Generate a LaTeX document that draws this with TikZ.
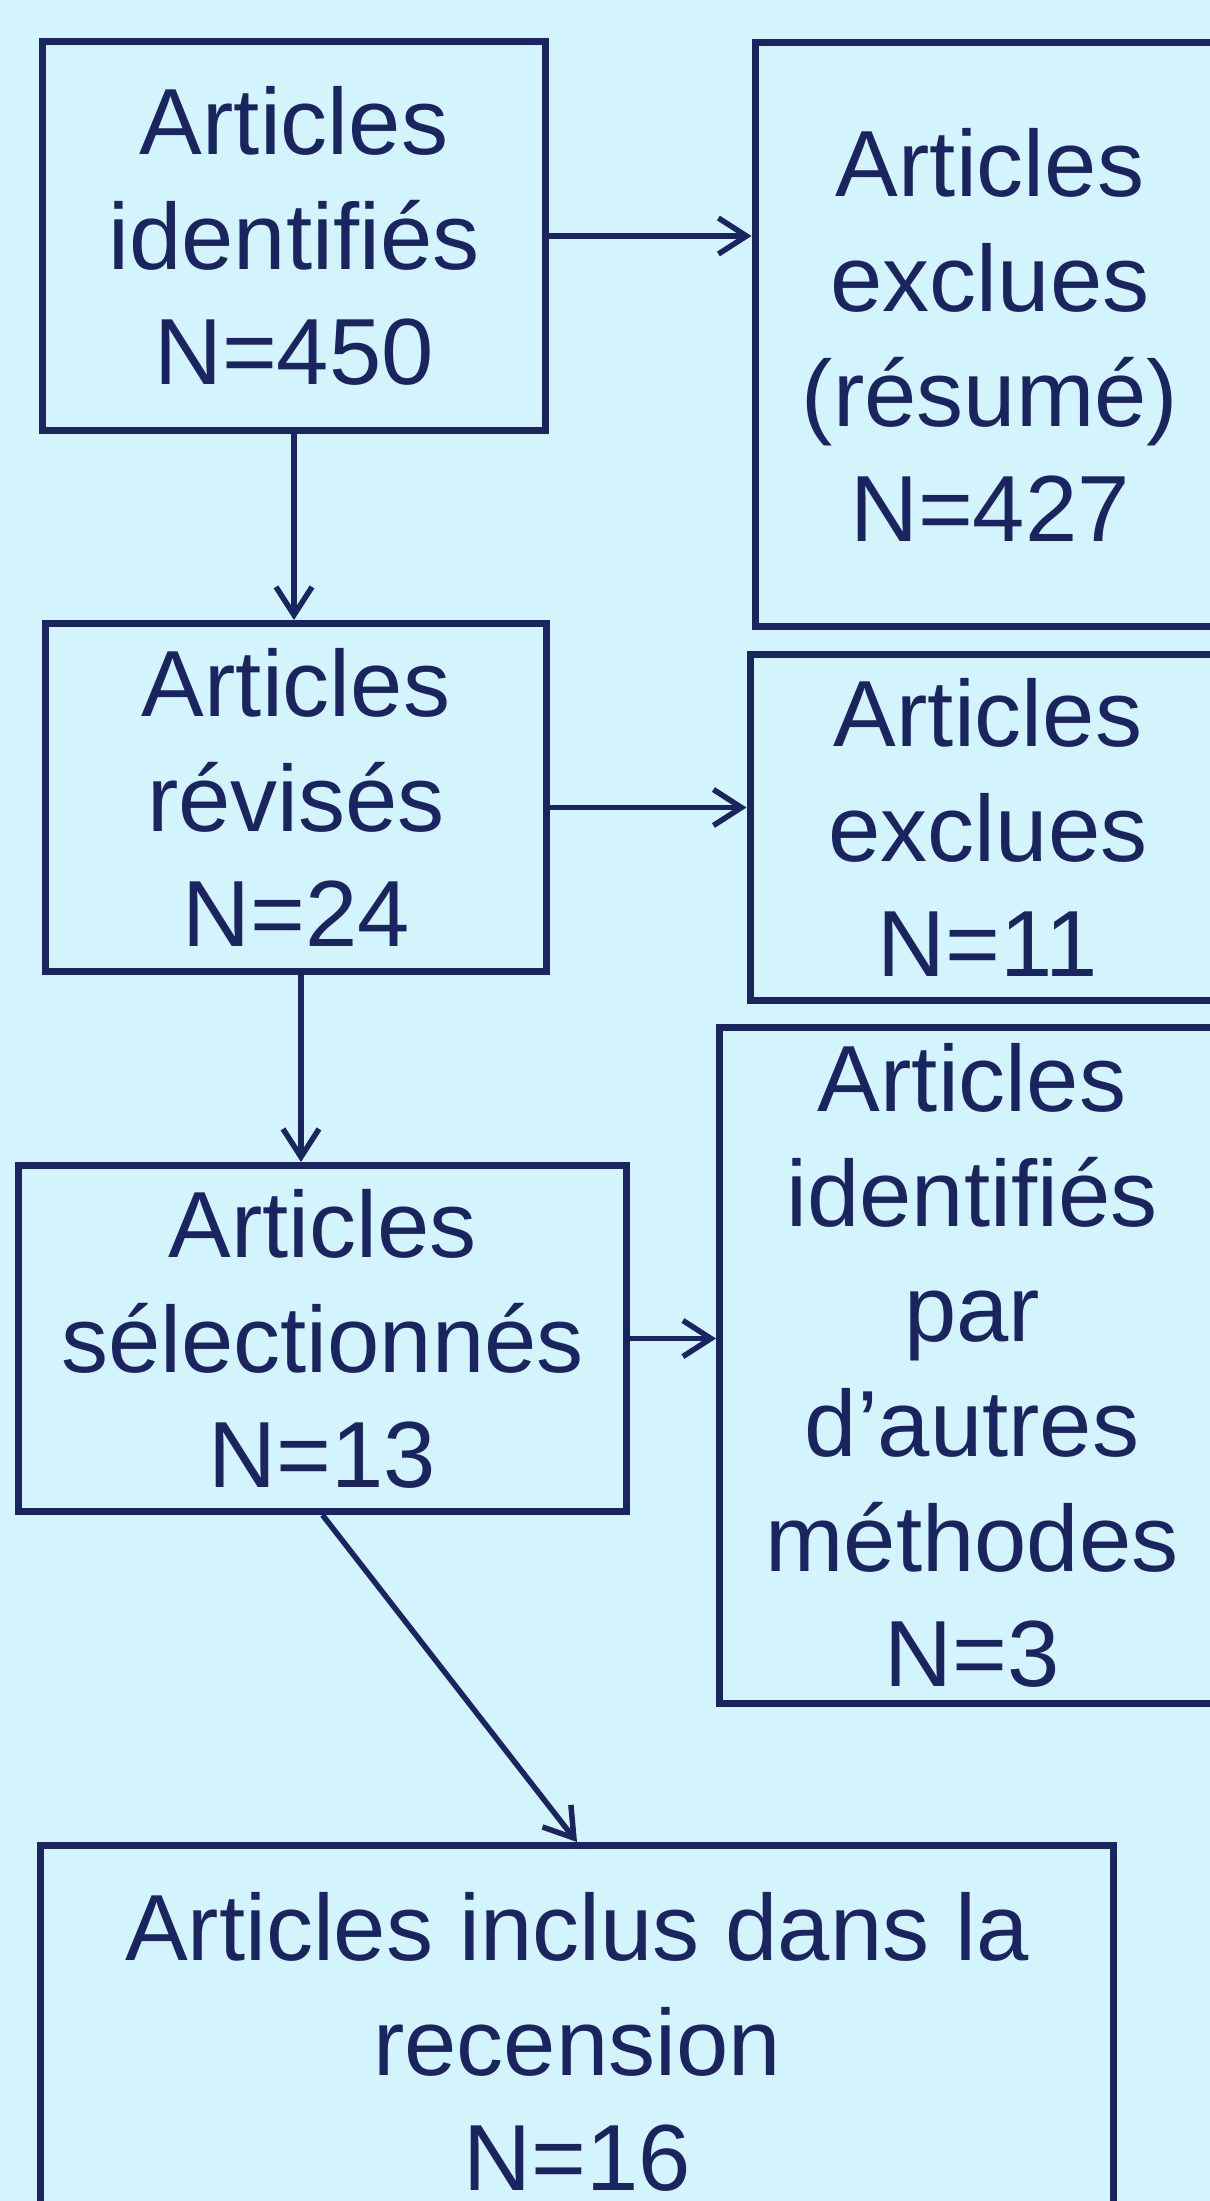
\documentclass[tikz,border=0pt]{standalone}
\usepackage{fontspec}
\setmainfont{Liberation Sans}
\usetikzlibrary{positioning,arrows.meta}
\definecolor{bgcyan}{RGB}{211,243,253}
\definecolor{navy}{RGB}{26,37,96}

\begin{document}
\begin{tikzpicture}[x=1pt,y=-1pt,
        every node/.style={shape=rectangle,draw=navy,line width=7pt,align=center,inner sep=0,text=navy,font=\fontsize{94}{115}\selectfont},
        every edge/.style={draw=navy,line width=5.5pt,-{Straight Barb[length=28pt,width=36pt,line width=5.5pt]}},
        ]
\useasboundingbox (0,0) rectangle (1210,2201);
\clip (0,0) rectangle (1210,2201);
\fill[bgcyan] (0,0) rectangle (1210,2201);

\node [minimum width=503pt, minimum height=389pt] (ident) at (294,236) {Articles\\identifiés\\N=450};
\node [minimum width=470pt, minimum height=584pt] (excl1) at (990,334.5) {Articles\\exclues\\(résumé)\\N=427};
\node [minimum width=501pt, minimum height=348pt] (revis) at (296,797.5) {Articles\\révisés\\N=24};
\node [minimum width=476pt, minimum height=346pt] (excl2) at (988,827.5) {Articles\\exclues\\N=11};
\node [minimum width=608pt, minimum height=346pt] (selec) at (322.5,1338.5) {Articles\\sélectionnés\\N=13};
\node [minimum width=505pt, minimum height=676pt] (autres) at (972,1365.5) {Articles\\identifiés\\par\\d’autres\\méthodes\\N=3};
\node [minimum width=1073pt, minimum height=393pt] (inclus) at (577,2042) {Articles inclus dans la\\recension\\N=16};

\coordinate (r4) at ([yshift=-10pt]revis.east);
\coordinate (r5) at ([xshift=5pt]revis.south);

    \path (ident.east) edge (ident.east -| excl1.west);
    \path (ident.south) edge (ident.south |- revis.north);

    \path (r4) edge (r4 -| excl2.west);
    \path (r5) edge (r5 |- selec.north);

    \path (selec.east) edge (selec.east -| autres.west);
    \path (selec.south) edge (inclus.north);

\end{tikzpicture}
\end{document}
